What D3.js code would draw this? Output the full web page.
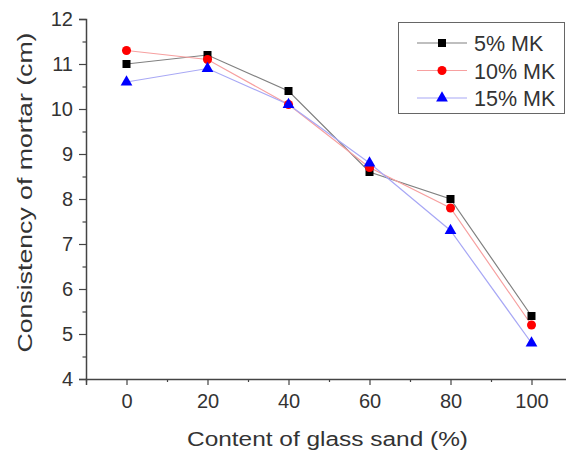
<!DOCTYPE html>
<html><head><meta charset="utf-8">
<script src="https://cdn.jsdelivr.net/npm/d3@7"></script>
<style>body{margin:0;background:#fff}svg{display:block}text{font-family:Arial,"Liberation Sans",sans-serif;fill:#333}</style>
</head><body><svg id="c" width="566" height="454"></svg>
<script>
const xValues = [0, 20, 40, 60, 80, 100];
const mk5 = [11.0, 11.2, 10.4, 8.6, 8.0, 5.4];
const mk10 = [11.3, 11.1, 10.1, 8.7, 7.8, 5.2];
const mk15 = [10.6, 10.9, 10.1, 8.8, 7.3, 4.8];
const seriesNames = ["5% MK", "10% MK", "15% MK"];
const xTicks = [0, 20, 40, 60, 80, 100];
const yTicks = [4, 5, 6, 7, 8, 9, 10, 11, 12];

const svg = d3.select("#c");
const x = d3.scaleLinear().domain([-10, 110]).range([86, 572]);
const y = d3.scaleLinear().domain([4, 12]).range([379, 19]);

const series = [
  {name: seriesNames[0], vals: mk5, line: "#808080", fill: "#000", sym: d3.symbolSquare, size: 64},
  {name: seriesNames[1], vals: mk10, line: "#f7a0a0", fill: "#f00", sym: d3.symbolCircle, size: 64},
  {name: seriesNames[2], vals: mk15, line: "#a8a8f5", fill: "#00f", sym: d3.symbolTriangle, size: 60}
];

// axes
const gx = svg.append("g").attr("transform", `translate(0,${y(4)})`);
gx.call(d3.axisBottom(x).tickValues(xTicks).tickSize(6).tickPadding(9).tickFormat(d3.format("d")));
gx.call(g => g.selectAll(".tick text").attr("font-size", 20).style("fill", "#333"));
const gxm = svg.append("g").attr("transform", `translate(0,${y(4)})`);
gxm.call(d3.axisBottom(x).tickValues([-10,10,30,50,70,90,110]).tickSize(3).tickFormat(""));
const gy = svg.append("g").attr("transform", `translate(${x(-10)},0)`);
gy.call(d3.axisLeft(y).tickValues(yTicks).tickSize(7).tickPadding(6).tickFormat(d3.format("d")));
gy.call(g => g.selectAll(".tick text").attr("font-size", 20).style("fill", "#333"));
const gym = svg.append("g").attr("transform", `translate(${x(-10)},0)`);
gym.call(d3.axisLeft(y).tickValues(d3.range(4.5, 12, 1)).tickSize(3.5).tickFormat(""));
[gx, gxm, gy, gym].forEach(g => {
  g.selectAll("path.domain").attr("stroke", "#444").attr("stroke-width", 1.5);
  g.selectAll(".tick line").attr("stroke", "#444").attr("stroke-width", 1.2);
});
gxm.select("path.domain").remove(); gym.select("path.domain").remove();

// titles
svg.append("text").attr("x", 327.5).attr("y", 446).attr("text-anchor", "middle")
  .attr("font-size", 19.5).attr("textLength", 281).attr("lengthAdjust", "spacingAndGlyphs")
  .text("Content of glass sand (%)");
svg.append("text").attr("transform", `translate(32,192.5) rotate(-90)`).attr("text-anchor", "middle")
  .attr("font-size", 19.5).attr("textLength", 320).attr("lengthAdjust", "spacingAndGlyphs")
  .text("Consistency of mortar (cm)");

// lines and markers
const line = d3.line().x((d,i)=>x(xValues[i])).y(d=>y(d));
series.forEach(s => {
  svg.append("path").datum(s.vals).attr("d", line).attr("fill", "none")
    .attr("stroke", s.line).attr("stroke-width", 1.2);
});
series.forEach(s => {
  svg.append("g").selectAll("path").data(s.vals).join("path")
    .attr("transform", (d,i)=>`translate(${x(xValues[i])},${y(d)})`)
    .attr("d", d3.symbol().type(s.sym).size(s.size)).attr("fill", s.fill);
});

// legend
const lg = svg.append("g");
lg.append("rect").attr("x", 398.5).attr("y", 22.5).attr("width", 166).attr("height", 91)
  .attr("fill", "#fff").attr("stroke", "#666").attr("stroke-width", 1);
series.forEach((s, i) => {
  const yy = 43 + i * 27.5;
  lg.append("line").attr("x1", 417).attr("x2", 467).attr("y1", yy).attr("y2", yy)
    .attr("stroke", s.line).attr("stroke-width", 1.2);
  lg.append("path").attr("transform", `translate(442,${yy})`)
    .attr("d", d3.symbol().type(s.sym).size(s.size)).attr("fill", s.fill);
  lg.append("text").attr("x", 474).attr("y", yy + 8).attr("font-size", 21.5).text(s.name);
});
</script></body></html>
